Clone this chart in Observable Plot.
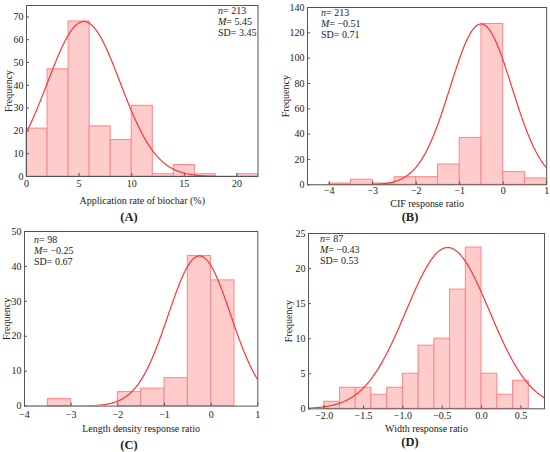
<!DOCTYPE html>
<html>
<head>
<meta charset="utf-8">
<script src="https://cdn.jsdelivr.net/npm/d3@7"></script>
<script src="https://cdn.jsdelivr.net/npm/@observablehq/plot@0.6"></script>
<style>
  html, body { margin: 0; padding: 0; background: #fff; }
  #root { position: relative; width: 550px; height: 452px; overflow: hidden; font-family: "Liberation Serif", "Times New Roman", serif; color: #222; }
  .panel { position: absolute; }
  .panel text { font-family: "Liberation Serif", "Times New Roman", serif; }
  .stats { position: absolute; font-size: 10px; line-height: 11px; white-space: nowrap; }
  .tag { position: absolute; font-size: 12.5px; font-weight: bold; transform: translate(-50%, -50%); white-space: nowrap; }
</style>
</head>
<body>
<div id="root"></div>
<script>
// ---------- data ----------
// Panel A: application rate of biochar (%), bin width 2
const aBinStart = [0, 2, 4, 6, 8, 10, 12, 14, 16, 18, 20];
const aCounts   = [21, 47, 68, 22, 16, 31, 1, 5, 1, 0, 1];
const aStats = {n: 213, M: "5.45", SD: "3.45"};
const aMean = 5.45, aSD = 3.45;
const aXTicks = [0, 5, 10, 15, 20];
const aYTicks = [0, 10, 20, 30, 40, 50, 60, 70];

// Panel B: CIF response ratio, bin width 0.5
const bBinStart = [-4, -3.5, -3, -2.5, -2, -1.5, -1, -0.5, 0, 0.5];
const bCounts   = [1, 4, 1, 6, 6, 16, 37, 127, 10, 5];
const bStats = {n: 213, M: "\u22120.51", SD: "0.71"};
const bMean = -0.51, bSD = 0.71;
const bXTicks = [-4, -3, -2, -1, 0, 1];
const bYTicks = [0, 20, 40, 60, 80, 100, 120, 140];

// Panel C: length density response ratio, bin width 0.5
const cBinStart = [-3.5, -3, -2.5, -2, -1.5, -1, -0.5, 0];
const cCounts   = [2, 0, 0, 4, 5, 8, 43, 36];
const cStats = {n: 98, M: "\u22120.25", SD: "0.67"};
const cMean = -0.25, cSD = 0.67;
const cXTicks = [-4, -3, -2, -1, 0, 1];
const cYTicks = [0, 10, 20, 30, 40, 50];

// Panel D: width response ratio, bin width 0.2
const dBinStart = [-2.0, -1.8, -1.6, -1.4, -1.2, -1.0, -0.8, -0.6, -0.4, -0.2, 0.0, 0.2, 0.4];
const dCounts   = [1, 3, 3, 2, 3, 5, 9, 10, 17, 23, 5, 2, 4];
const dStats = {n: 87, M: "\u22120.43", SD: "0.53"};
const dMean = -0.43, dSD = 0.53;
const dXTicks = [-2.0, -1.5, -1.0, -0.5, 0.0, 0.5];
const dYTicks = [0, 5, 10, 15, 20, 25];

// ---------- drawing ----------
const root = document.getElementById("root");
const FILL = "#ffcccc", EDGE = "#ff8585", CURVE = "#ff3434", FRAME = "#555";

function panel(o) {
  const ml = 30, mr = 4, mt = 4, mb = 50;
  const fw = o.R - o.L, fh = o.B - o.T;
  const bins = o.starts.map((s, i) => ({x1: s, x2: s + o.bw, y: o.counts[i]})).filter(d => d.y > 0);
  const peak = d3.max(o.counts);
  const curve = d3.range(0, 401).map(i => {
    const x = o.xdom[0] + (o.xdom[1] - o.xdom[0]) * i / 400;
    return {x, y: peak * Math.exp(-((x - o.mean) ** 2) / (2 * o.sd * o.sd))};
  });
  const svg = Plot.plot({
    width: fw + ml + mr,
    height: fh + mt + mb,
    marginLeft: ml, marginRight: mr, marginTop: mt, marginBottom: mb,
    style: {fontFamily: '"Liberation Serif", "Times New Roman", serif', fontSize: "10px", color: "#222", background: "transparent", overflow: "visible"},
    x: {domain: o.xdom},
    y: {domain: o.ydom},
    marks: [
      Plot.rectY(bins, {x1: "x1", x2: "x2", y: "y", fill: FILL, stroke: EDGE, strokeWidth: 1}),
      Plot.line(curve, {x: "x", y: "y", stroke: CURVE, strokeWidth: 1.2, clip: true}),
      Plot.tickX(o.xticks, {x: d => d, insetTop: fh - 3, stroke: FRAME}),
      Plot.tickY(o.yticks, {y: d => d, insetRight: fw - 3, stroke: FRAME}),
      Plot.axisX({ticks: o.xticks, tickSize: 0, tickPadding: o.tp, tickFormat: o.fmt, label: o.xlabel, labelAnchor: "center", labelOffset: o.lo, labelArrow: "none"}),
      Plot.axisY({ticks: o.yticks, tickSize: 0, tickPadding: 3, label: "Frequency", labelAnchor: "center", labelOffset: o.ylo, labelArrow: "none"}),
      Plot.frame({stroke: FRAME, strokeWidth: 1})
    ]
  });
  svg.classList.add("panel");
  svg.style.left = (o.L - ml) + "px";
  svg.style.top = (o.T - mt) + "px";
  svg.style.position = "absolute";
  root.appendChild(svg);

  const st = document.createElement("div");
  st.className = "stats";
  st.style.left = o.sx + "px";
  st.style.top = o.sy + "px";
  st.innerHTML = `<i>n</i>= ${o.stats.n}<br><i>M</i>= ${o.stats.M}<br>SD= ${o.stats.SD}`;
  root.appendChild(st);

  const tag = document.createElement("div");
  tag.className = "tag";
  tag.style.left = o.tx + "px";
  tag.style.top = o.ty + "px";
  tag.textContent = o.tag;
  root.appendChild(tag);
}

const f0 = d3.format("d"), f1 = d3.format(".1f");

panel({L: 26, R: 257.5, T: 4.7, B: 175.7, xdom: [0, 22], ydom: [0, 75], starts: aBinStart, counts: aCounts, bw: 2,
  mean: aMean, sd: aSD, xticks: aXTicks, yticks: aYTicks, fmt: f0, tp: 3, lo: 27, ylo: 22,
  xlabel: "Application rate of biochar (%)", stats: aStats, sx: 218, sy: 5, tag: "(A)", tx: 129, ty: 217});

panel({L: 307.3, R: 546.5, T: 6.7, B: 184, xdom: [-4.5, 1], ydom: [0, 140], starts: bBinStart, counts: bCounts, bw: 0.5,
  mean: bMean, sd: bSD, xticks: bXTicks, yticks: bYTicks, fmt: f0, tp: 2, lo: 22, ylo: 26,
  xlabel: "CIF response ratio", stats: bStats, sx: 321, sy: 7, tag: "(B)", tx: 410, ty: 217});

panel({L: 24, R: 257.3, T: 230.7, B: 405.3, xdom: [-4, 1], ydom: [0, 50], starts: cBinStart, counts: cCounts, bw: 0.5,
  mean: cMean, sd: cSD, xticks: cXTicks, yticks: cYTicks, fmt: f0, tp: 5, lo: 26, ylo: 22,
  xlabel: "Length density response ratio", stats: cStats, sx: 34, sy: 234, tag: "(C)", tx: 129, ty: 445});

panel({L: 308.3, R: 544.3, T: 232.7, B: 408, xdom: [-2.2, 0.8], ydom: [0, 25], starts: dBinStart, counts: dCounts, bw: 0.2,
  mean: dMean, sd: dSD, xticks: dXTicks, yticks: dYTicks, fmt: f1, tp: 3, lo: 23, ylo: 24,
  xlabel: "Width response ratio", stats: dStats, sx: 320, sy: 233, tag: "(D)", tx: 410, ty: 442});
</script>
</body>
</html>
